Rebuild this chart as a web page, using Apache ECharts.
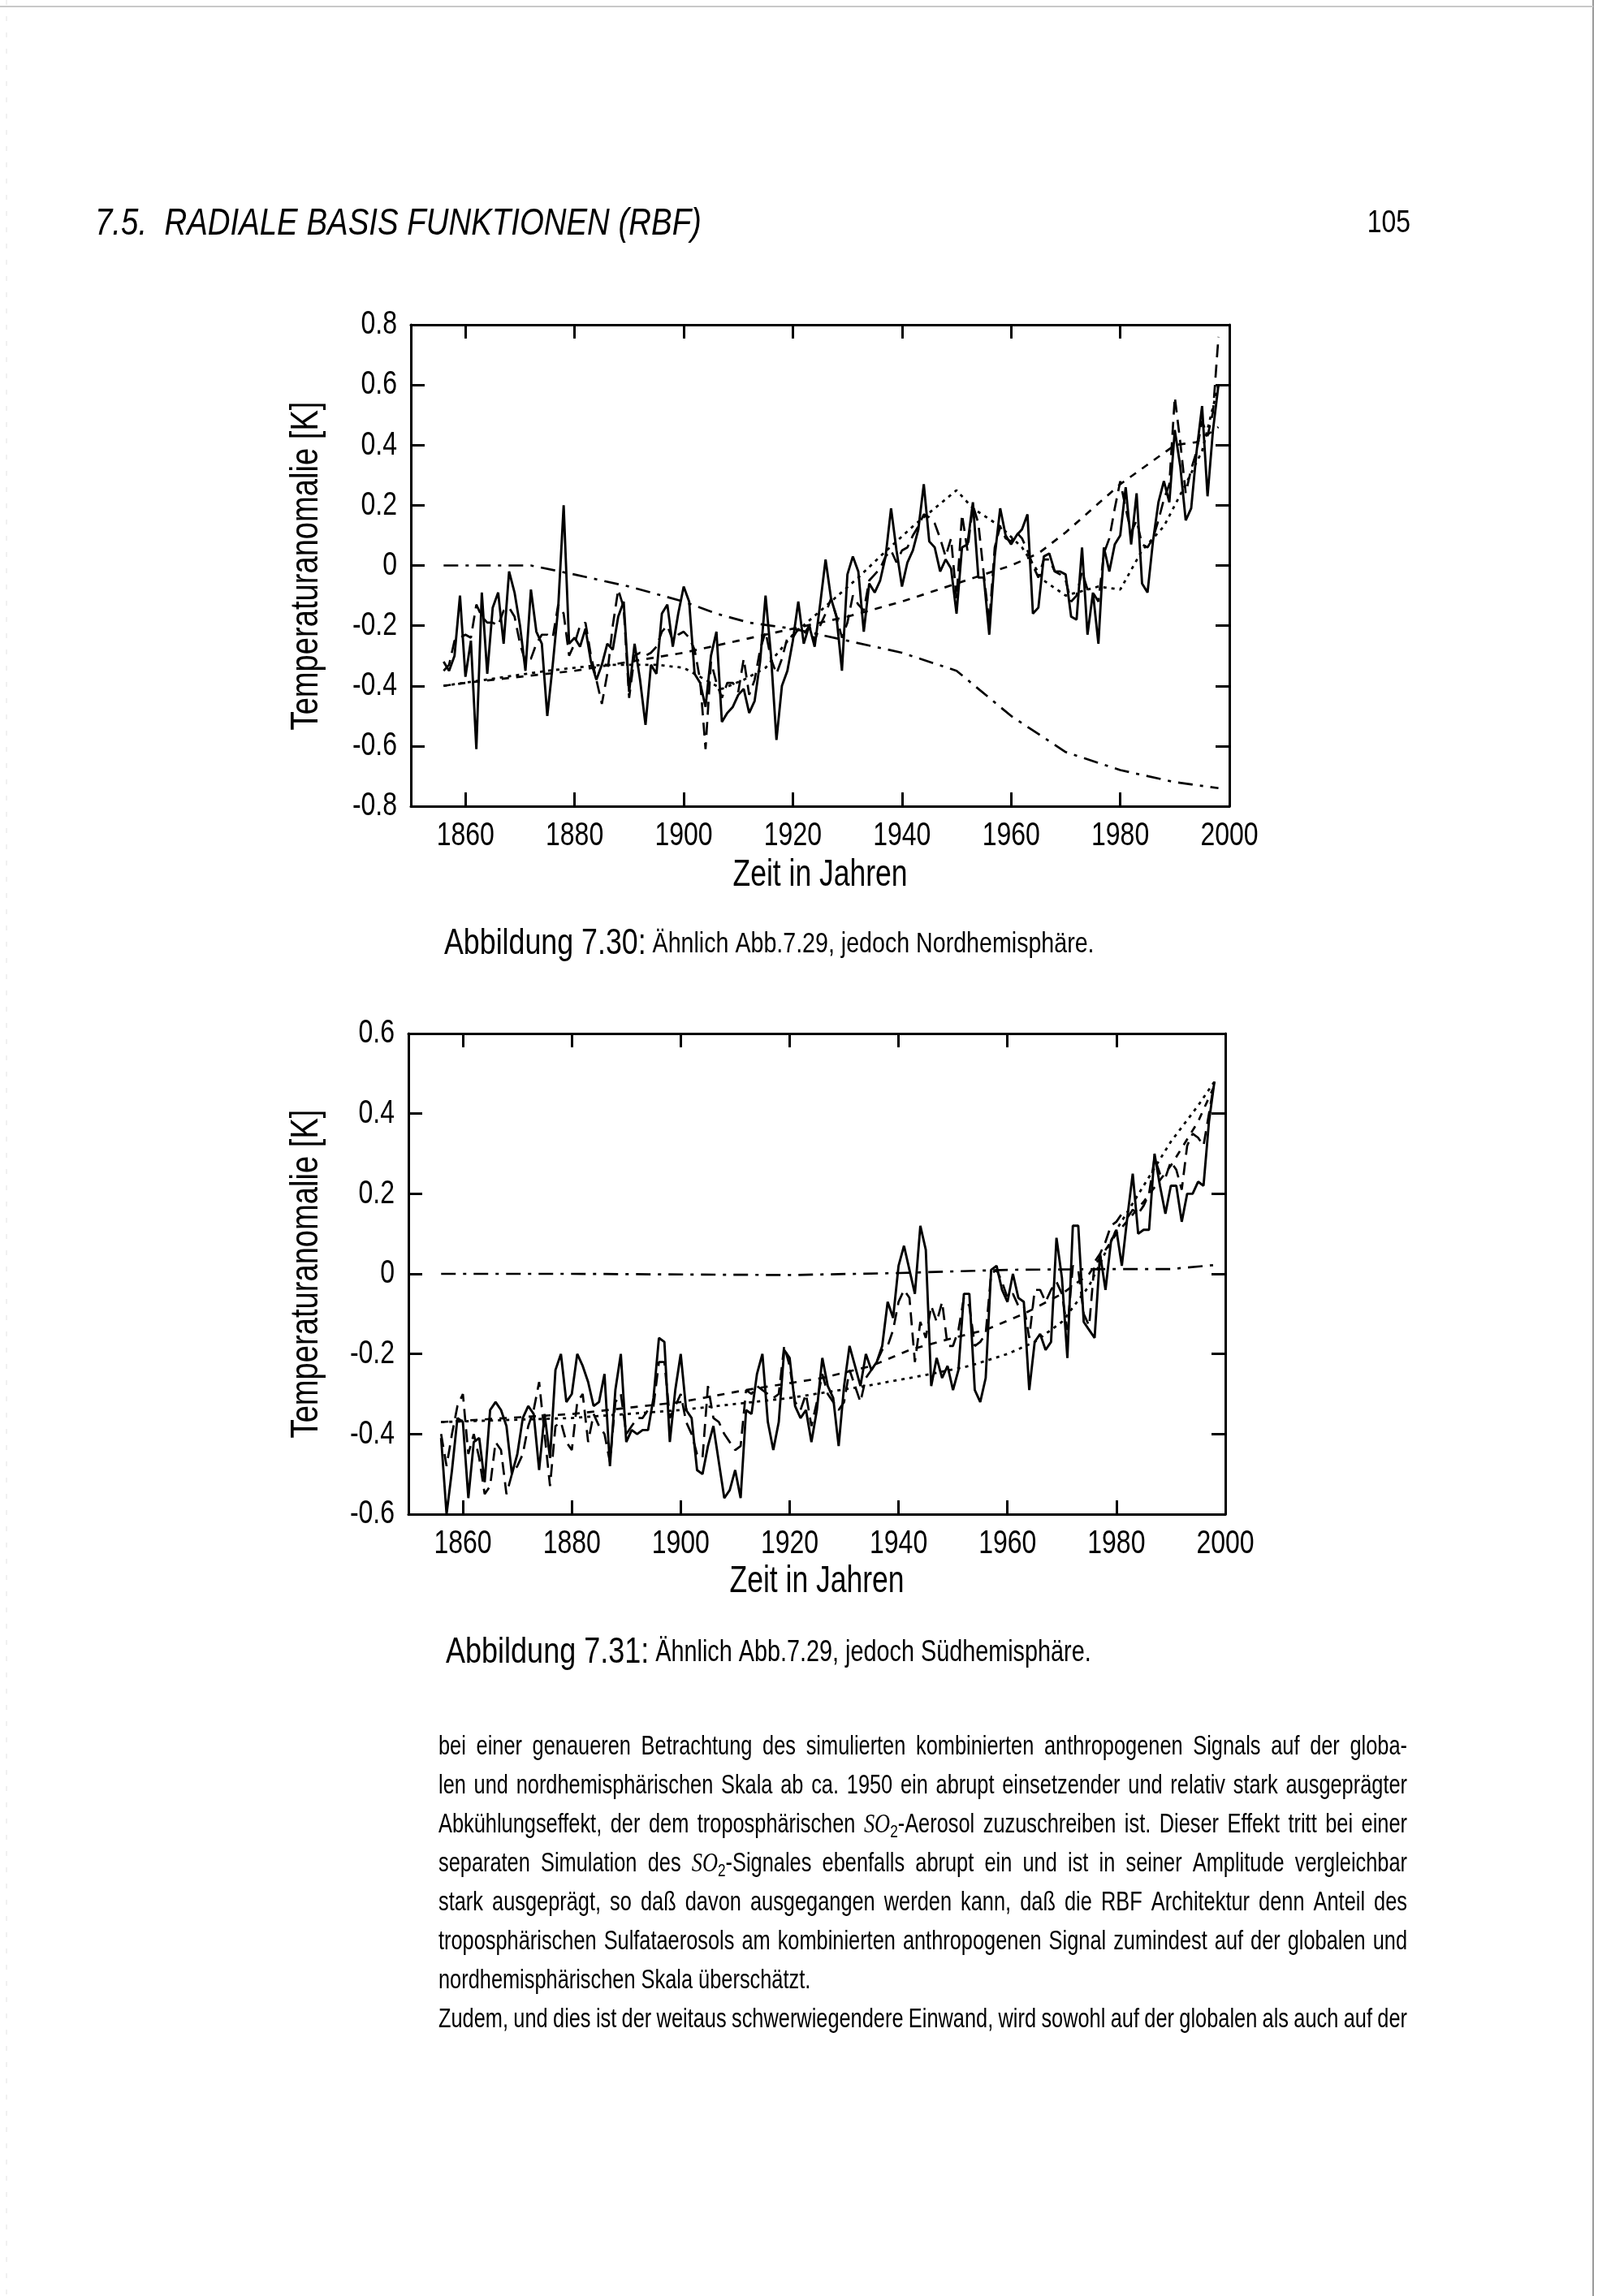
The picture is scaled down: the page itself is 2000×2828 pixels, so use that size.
<!DOCTYPE html>
<html>
<head>
<meta charset="utf-8">
<script src="https://cdn.jsdelivr.net/npm/echarts@6/dist/echarts.min.js"></script>
<style>
  html, body { margin: 0; padding: 0; background: #fff; }
  #page { width: 2000px; height: 2828px; }
</style>
</head>
<body>
<div id="page"></div>
<script>
// ---------------- DATA ----------------
const YEAR_START = 1856;

// Abb. 7.30 – Nordhemisphäre
const nhObserved = [
  -0.32,-0.35,-0.30,-0.10,
  -0.37,-0.25,-0.61,-0.09,-0.36,-0.14,-0.09,-0.26,-0.02,-0.09,
  -0.20,-0.35,-0.08,-0.22,-0.26,-0.50,-0.33,-0.14,0.20,-0.26,
  -0.24,-0.27,-0.21,-0.32,-0.38,-0.33,-0.26,-0.28,-0.17,-0.12,
  -0.42,-0.26,-0.38,-0.53,-0.33,-0.36,-0.16,-0.13,-0.27,-0.16,
  -0.07,-0.12,-0.36,-0.39,-0.47,-0.30,-0.22,-0.52,-0.49,-0.47,
  -0.43,-0.41,-0.49,-0.45,-0.32,-0.10,-0.30,-0.58,-0.40,-0.35,
  -0.25,-0.12,-0.26,-0.20,-0.27,-0.13,0.02,-0.11,-0.17,-0.35,
  -0.03,0.03,-0.02,-0.22,-0.06,-0.09,-0.05,0.03,0.19,0.05,
  -0.07,0.01,0.05,0.12,0.27,0.08,0.06,-0.02,0.02,-0.01,
  -0.16,0.06,0.07,0.21,-0.04,-0.04,-0.23,0.03,0.19,0.10,
  0.07,0.10,0.12,0.17,-0.16,-0.14,0.03,0.04,-0.02,-0.02,
  -0.03,-0.17,-0.18,0.06,-0.23,-0.09,-0.26,0.06,-0.02,0.07,
  0.10,0.26,0.07,0.24,-0.06,-0.09,0.08,0.21,0.28,0.21,
  0.45,0.33,0.15,0.19,0.38,0.53,0.23,0.45,0.60
];
const nhModel = [
  -0.35,-0.33,-0.25,-0.24,
  -0.23,-0.24,-0.13,-0.17,-0.19,-0.19,-0.20,-0.15,-0.14,-0.17,
  -0.26,-0.32,-0.31,-0.26,-0.23,-0.23,-0.24,-0.13,-0.16,-0.30,
  -0.26,-0.20,-0.19,-0.30,-0.38,-0.46,-0.36,-0.20,-0.08,-0.14,
  -0.44,-0.30,-0.29,-0.30,-0.29,-0.27,-0.22,-0.20,-0.25,-0.23,
  -0.22,-0.24,-0.28,-0.38,-0.61,-0.32,-0.39,-0.44,-0.39,-0.39,
  -0.42,-0.31,-0.43,-0.38,-0.28,-0.22,-0.31,-0.36,-0.31,-0.24,
  -0.24,-0.21,-0.23,-0.20,-0.25,-0.20,-0.16,-0.11,-0.17,-0.24,
  -0.19,-0.10,-0.13,-0.15,-0.05,-0.03,-0.01,0.03,0.05,0.01,
  0.05,0.06,0.10,0.13,0.17,0.16,0.14,0.09,0.03,0.09,
  -0.11,0.17,0.05,0.20,0.14,-0.03,-0.19,0.06,0.13,0.09,
  0.08,0.11,0.09,0.05,0.00,-0.04,0.02,0.02,-0.02,-0.03,
  -0.05,-0.12,-0.10,-0.02,-0.08,-0.09,-0.12,0.04,0.09,0.19,
  0.28,0.19,0.11,0.15,0.07,0.06,0.09,0.15,0.22,0.27,
  0.56,0.41,0.24,0.32,0.38,0.48,0.43,0.51,0.76
];
const nhTrendDashed = [[1856,-0.40],[1860,-0.39],[1870,-0.37],[1880,-0.35],[1890,-0.32],[1900,-0.29],[1910,-0.25],[1920,-0.21],[1930,-0.17],[1940,-0.12],[1950,-0.06],[1960,0.00],[1965,0.04],[1970,0.11],[1980,0.27],[1990,0.40],[1994,0.41],[1998,0.46]];
const nhTrendDotted = [[1856,-0.40],[1875,-0.35],[1885,-0.33],[1895,-0.33],[1900,-0.34],[1903,-0.37],[1907,-0.41],[1911,-0.38],[1915,-0.34],[1920,-0.23],[1927,-0.12],[1932,-0.04],[1936,0.03],[1942,0.13],[1950,0.25],[1953,0.19],[1958,0.13],[1962,0.06],[1966,-0.05],[1970,-0.10],[1976,-0.07],[1980,-0.08],[1984,0.05],[1988,0.13],[1992,0.27],[1995,0.38],[1998,0.60]];
const nhSulfate = [[1856,0.00],[1872,0.00],[1880,-0.03],[1890,-0.07],[1900,-0.12],[1906,-0.16],[1912,-0.19],[1920,-0.21],[1930,-0.25],[1940,-0.29],[1950,-0.35],[1960,-0.50],[1970,-0.62],[1980,-0.68],[1990,-0.72],[1998,-0.74]];

// Abb. 7.31 – Südhemisphäre
const shObserved = [
  -0.41,-0.60,-0.49,-0.36,
  -0.37,-0.56,-0.42,-0.41,-0.52,-0.34,-0.32,-0.34,-0.38,-0.50,
  -0.45,-0.36,-0.33,-0.35,-0.49,-0.35,-0.46,-0.24,-0.20,-0.32,
  -0.30,-0.20,-0.23,-0.27,-0.33,-0.32,-0.25,-0.48,-0.29,-0.20,
  -0.42,-0.39,-0.40,-0.39,-0.39,-0.31,-0.16,-0.17,-0.42,-0.29,
  -0.20,-0.34,-0.36,-0.49,-0.50,-0.43,-0.38,-0.47,-0.56,-0.54,
  -0.49,-0.56,-0.34,-0.35,-0.25,-0.20,-0.37,-0.44,-0.37,-0.19,
  -0.21,-0.33,-0.36,-0.34,-0.42,-0.34,-0.21,-0.28,-0.31,-0.43,
  -0.28,-0.18,-0.23,-0.28,-0.20,-0.24,-0.22,-0.18,-0.07,-0.11,
  0.02,0.07,0.01,-0.05,0.12,0.06,-0.28,-0.21,-0.26,-0.23,
  -0.29,-0.24,-0.05,-0.05,-0.29,-0.32,-0.26,0.01,0.02,-0.04,
  -0.07,0.00,-0.06,-0.07,-0.29,-0.17,-0.15,-0.19,-0.17,0.09,
  -0.01,-0.21,0.12,0.12,-0.12,-0.14,-0.16,0.05,-0.04,0.08,
  0.11,0.02,0.14,0.25,0.10,0.11,0.11,0.30,0.22,0.15,
  0.22,0.22,0.13,0.20,0.20,0.23,0.22,0.38,0.48
];
const shModel = [
  -0.40,-0.48,-0.40,-0.33,
  -0.30,-0.45,-0.40,-0.46,-0.55,-0.53,-0.42,-0.44,-0.55,-0.50,
  -0.48,-0.45,-0.38,-0.34,-0.27,-0.40,-0.53,-0.38,-0.37,-0.42,
  -0.44,-0.32,-0.30,-0.42,-0.35,-0.38,-0.40,-0.47,-0.32,-0.30,
  -0.40,-0.38,-0.36,-0.36,-0.34,-0.33,-0.22,-0.22,-0.36,-0.33,
  -0.30,-0.37,-0.40,-0.45,-0.46,-0.28,-0.36,-0.37,-0.40,-0.42,
  -0.44,-0.43,-0.29,-0.30,-0.28,-0.29,-0.30,-0.31,-0.30,-0.18,
  -0.23,-0.32,-0.34,-0.30,-0.38,-0.32,-0.25,-0.30,-0.32,-0.34,
  -0.32,-0.24,-0.28,-0.32,-0.26,-0.24,-0.22,-0.19,-0.18,-0.14,
  -0.07,-0.04,-0.06,-0.22,-0.12,-0.16,-0.08,-0.12,-0.07,-0.18,
  -0.18,-0.14,-0.06,-0.08,-0.18,-0.17,-0.15,0.00,0.01,-0.02,
  -0.06,-0.05,-0.08,-0.08,-0.16,-0.04,-0.04,-0.07,-0.04,-0.02,
  -0.05,-0.14,0.02,0.01,-0.10,-0.13,0.03,0.05,0.08,0.12,
  0.13,0.15,0.14,0.16,0.15,0.17,0.20,0.29,0.25,0.24,
  0.28,0.26,0.21,0.32,0.35,0.34,0.32,0.40,0.48
];
const shTrendDashed = [[1856,-0.37],[1880,-0.35],[1900,-0.32],[1912,-0.29],[1926,-0.26],[1935,-0.23],[1942,-0.19],[1950,-0.16],[1956,-0.14],[1963,-0.10],[1970,-0.05],[1975,0.00],[1980,0.10],[1985,0.18],[1990,0.27],[1995,0.38],[1998,0.47]];
const shTrendDotted = [[1856,-0.37],[1880,-0.36],[1900,-0.34],[1920,-0.31],[1934,-0.28],[1946,-0.25],[1953,-0.23],[1960,-0.20],[1965,-0.17],[1970,-0.12],[1975,-0.03],[1980,0.11],[1985,0.22],[1990,0.33],[1995,0.42],[1998,0.48]];
const shSulfate = [[1856,0.00],[1880,0.00],[1920,-0.003],[1940,0.002],[1960,0.010],[1980,0.012],[1990,0.012],[1998,0.022]];

// tick labels
const xTickLabels = [1860,1880,1900,1920,1940,1960,1980,2000];
const xTickMarks  = [1860,1880,1900,1920,1940,1960,1980];
const nhYTickLabels = [0.8,0.6,0.4,0.2,0,-0.2,-0.4,-0.6,-0.8];
const shYTickLabels = [0.6,0.4,0.2,0,-0.2,-0.4,-0.6];

const headerText = '7.5.  RADIALE BASIS FUNKTIONEN (RBF)';
const pageNumber = '105';
const yAxisName = 'Temperaturanomalie [K]';
const xAxisName = 'Zeit in Jahren';
const caption1 = ['Abbildung 7.30:', 'Ähnlich Abb.7.29, jedoch Nordhemisphäre.'];
const caption2 = ['Abbildung 7.31:', 'Ähnlich Abb.7.29, jedoch Südhemisphäre.'];
const bodyLines = [
  ['bei einer genaueren Betrachtung des simulierten kombinierten anthropogenen Signals auf der globa-', true],
  ['len und nordhemisphärischen Skala ab ca. 1950 ein abrupt einsetzender und relativ stark ausgeprägter', true],
  ['Abkühlungseffekt, der dem troposphärischen {SO2}-Aerosol zuzuschreiben ist. Dieser Effekt tritt bei einer', true],
  ['separaten Simulation des {SO2}-Signales ebenfalls abrupt ein und ist in seiner Amplitude vergleichbar', true],
  ['stark ausgeprägt, so daß davon ausgegangen werden kann, daß die RBF Architektur denn Anteil des', true],
  ['troposphärischen Sulfataerosols am kombinierten anthropogenen Signal zumindest auf der globalen und', true],
  ['nordhemisphärischen Skala überschätzt.', false],
  ['Zudem, und dies ist der weitaus schwerwiegendere Einwand, wird sowohl auf der globalen als auch auf der', true]
];

// ---------------- LAYOUT ----------------
const FONT = '"Liberation Sans", Arial, sans-serif';
const SERIF = '"Liberation Serif", "DejaVu Serif", serif';
const NARROW = 0.8;
const mctx = document.createElement('canvas').getContext('2d');
function measure(text, size, family, style) {
  mctx.font = (style || 'normal') + ' normal ' + size + 'px ' + family;
  return mctx.measureText(text).width;
}

const G = [
  { left: 506, top: 400, width: 1008, height: 593, ymin: -0.8, ymax: 0.8, yLabels: nhYTickLabels },
  { left: 503, top: 1273, width: 1006, height: 592, ymin: -0.6, ymax: 0.6, yLabels: shYTickLabels }
];
const TICK_FONT = 41;
const toPairs = arr => arr.map((v, i) => [YEAR_START + i, v]);
const yFmt = v => Math.abs(v) < 1e-9 ? '0' : v.toFixed(1);

const grids = [], xAxes = [], yAxes = [], series = [];
G.forEach((g, gi) => {
  grids.push({ left: g.left, top: g.top, width: g.width, height: g.height, show: false });
  ['bottom', 'top'].forEach(pos => {
    xAxes.push({
      gridIndex: gi, type: 'value', min: 1850, max: 2000, position: pos,
      axisLine: { show: true, onZero: false, lineStyle: { color: '#000', width: 3 } },
      axisTick: { show: true, inside: true, length: 17, customValues: xTickMarks, lineStyle: { color: '#000', width: 3 } },
      axisLabel: { show: false },
      splitLine: { show: false }
    });
  });
  ['left', 'right'].forEach(pos => {
    yAxes.push({
      gridIndex: gi, type: 'value', min: g.ymin, max: g.ymax, interval: 0.2, position: pos,
      axisLine: { show: true, onZero: false, lineStyle: { color: '#000', width: 3 } },
      axisTick: { show: true, inside: true, length: 17, lineStyle: { color: '#000', width: 3 } },
      axisLabel: { show: false },
      splitLine: { show: false }
    });
  });
});

function addLine(gi, data, type, width, z) {
  series.push({
    type: 'line', xAxisIndex: gi * 2, yAxisIndex: gi * 2, data: data,
    showSymbol: false, symbol: 'none', smooth: false, z: z, silent: true,
    lineStyle: { color: '#000', width: width, type: type, cap: 'butt' }
  });
}
const DASH = [16, 9];
const SHORTDASH = [9, 9];
const DOT = [4, 6];
const DASHDOT = [18, 9, 4, 9];
addLine(0, nhSulfate, DASHDOT, 2.7, 2);
addLine(0, nhTrendDashed, SHORTDASH, 2.7, 3);
addLine(0, nhTrendDotted, DOT, 2.8, 3);
addLine(0, toPairs(nhModel), DASH, 2.7, 4);
addLine(0, toPairs(nhObserved), 'solid', 2.9, 5);
addLine(1, shSulfate, DASHDOT, 2.7, 2);
addLine(1, shTrendDashed, SHORTDASH, 2.7, 3);
addLine(1, shTrendDotted, DOT, 2.8, 3);
addLine(1, toPairs(shModel), DASH, 2.7, 4);
addLine(1, toPairs(shObserved), 'solid', 2.9, 5);

// ---------------- PAGE TEXT ----------------
const graphics = [];
graphics.push({ type: 'line', shape: { x1: 1962, y1: 0, x2: 1962, y2: 2828 }, style: { stroke: '#9a9a9a', lineWidth: 2 } });
graphics.push({ type: 'line', shape: { x1: 0, y1: 8, x2: 1962, y2: 8 }, style: { stroke: '#c8c8c8', lineWidth: 2 } });
graphics.push({ type: 'line', shape: { x1: 8, y1: 0, x2: 8, y2: 2828 }, style: { stroke: '#e2e2e2', lineWidth: 1, lineDash: [6, 14] } });

function txt(text, x, y, size, opts) {
  opts = opts || {};
  return { type: 'text', x: x, y: y, scaleX: opts.scaleX || NARROW, rotation: opts.rotation || 0,
    style: { text: text, fontSize: size, fontStyle: opts.fontStyle || 'normal', fontFamily: opts.family || FONT,
      fill: '#000', align: opts.align || 'left', verticalAlign: 'middle' } };
}
function fitTo(text, targetW, squeeze, style) {
  return 100 * targetW / (measure(text, 100, FONT, style) * squeeze);
}

// header + page number
graphics.push(txt(headerText, 117, 276, fitTo(headerText, 747, 0.84, 'italic'), { fontStyle: 'italic', scaleX: 0.84 }));
graphics.push(txt(pageNumber, 1737, 276, 38, { align: 'right', scaleX: 0.84 }));

// axis names
[[697, 1010, 1078], [1569, 1006, 1948]].forEach(([yc, xc, xy]) => {
  const s = fitTo(yAxisName, 405, 0.8);
  graphics.push({ type: 'text', x: 378, y: yc, rotation: Math.PI / 2, scaleX: 0.8,
    style: { text: yAxisName, fontSize: s, fontFamily: FONT, fill: '#000', align: 'center', verticalAlign: 'middle' } });
  graphics.push(txt(xAxisName, xc, xy, fitTo(xAxisName, 215, 0.78), { align: 'center', scaleX: 0.78 }));
});

// captions
function caption(parts, x, y, targetW) {
  const a = 35, b = 28, sq = 0.8;
  const w = (measure(parts[0] + ' ', a, FONT) + measure(parts[1], b, FONT)) * sq;
  const k = targetW / w;
  graphics.push({ type: 'text', x: x, y: y, scaleX: sq, style: {
    text: '{a|' + parts[0] + '} {b|' + parts[1] + '}',
    fill: '#000', align: 'left', verticalAlign: 'middle', fontFamily: FONT, fontSize: b * k,
    rich: { a: { fontSize: a * k, fontFamily: FONT, fill: '#000' }, b: { fontSize: b * k, fontFamily: FONT, fill: '#000' } }
  } });
}
caption(caption1, 547, 1163, 803);
caption(caption2, 549, 2036, 797);

// body text, justified word by word
const BODY_X0 = 540, BODY_X1 = 1733, BODY_Y0 = 2152, BODY_DY = 48, BODY_SIZE = 33;
function wordSegs(word, size) {
  const parts = word.split('{SO2}');
  const segs = [];
  parts.forEach((p, i) => {
    if (i > 0) {
      segs.push({ text: 'SO', size: size * 1.04, family: SERIF, style: 'italic', dy: 0 });
      segs.push({ text: '2', size: size * 0.68, family: FONT, style: 'normal', dy: size * 0.28 });
    }
    if (p) segs.push({ text: p, size: size, family: FONT, style: 'normal', dy: 0 });
  });
  segs.forEach(s => { s.w0 = measure(s.text, s.size, s.family, s.style); });
  return segs;
}
const spaceW0 = measure(' ', BODY_SIZE, FONT);
const parsed = bodyLines.map(([line, j]) => {
  const words = line.split(' ').map(w => wordSegs(w, BODY_SIZE));
  const total0 = words.reduce((t, ss) => t + ss.reduce((a, s) => a + s.w0, 0), 0);
  return { words, total0, justify: j };
});
let bodySq = 0.82;
parsed.forEach(p => {
  if (!p.justify) return;
  const need = (BODY_X1 - BODY_X0) / (p.total0 + (p.words.length - 1) * spaceW0 * 0.9);
  if (need < bodySq) bodySq = need;
});
parsed.forEach((p, li) => {
  const total = p.total0 * bodySq;
  const gap = p.justify ? (BODY_X1 - BODY_X0 - total) / (p.words.length - 1) : spaceW0 * bodySq;
  let x = BODY_X0;
  const y = BODY_Y0 + li * BODY_DY;
  p.words.forEach(ss => {
    ss.forEach(s => {
      graphics.push({ type: 'text', x: x, y: y + s.dy, scaleX: bodySq,
        style: { text: s.text, fontSize: s.size, fontFamily: s.family, fontStyle: s.style, fill: '#000', align: 'left', verticalAlign: 'middle' } });
      x += s.w0 * bodySq;
    });
    x += gap;
  });
});

const chart = echarts.init(document.getElementById('page'), null, { renderer: 'canvas', width: 2000, height: 2828 });
chart.setOption({
  backgroundColor: '#ffffff',
  animation: false,
  grid: grids,
  xAxis: xAxes,
  yAxis: yAxes,
  series: series,
  graphic: { elements: graphics }
});

// tick labels placed through the axes' own scales
const tickTexts = [];
G.forEach((g, gi) => {
  const yb = g.top + g.height;
  xTickLabels.forEach(v => {
    const px = chart.convertToPixel({ xAxisIndex: gi * 2 }, v);
    tickTexts.push(txt(String(v), px, yb + 37, TICK_FONT, { align: 'center', scaleX: 0.78 }));
  });
  g.yLabels.forEach(v => {
    const py = chart.convertToPixel({ yAxisIndex: gi * 2 }, v);
    tickTexts.push(txt(yFmt(v), g.left - 17, py, TICK_FONT, { align: 'right', scaleX: 0.78 }));
  });
});
chart.setOption({ graphic: { elements: graphics.concat(tickTexts) } });
</script>
</body>
</html>
